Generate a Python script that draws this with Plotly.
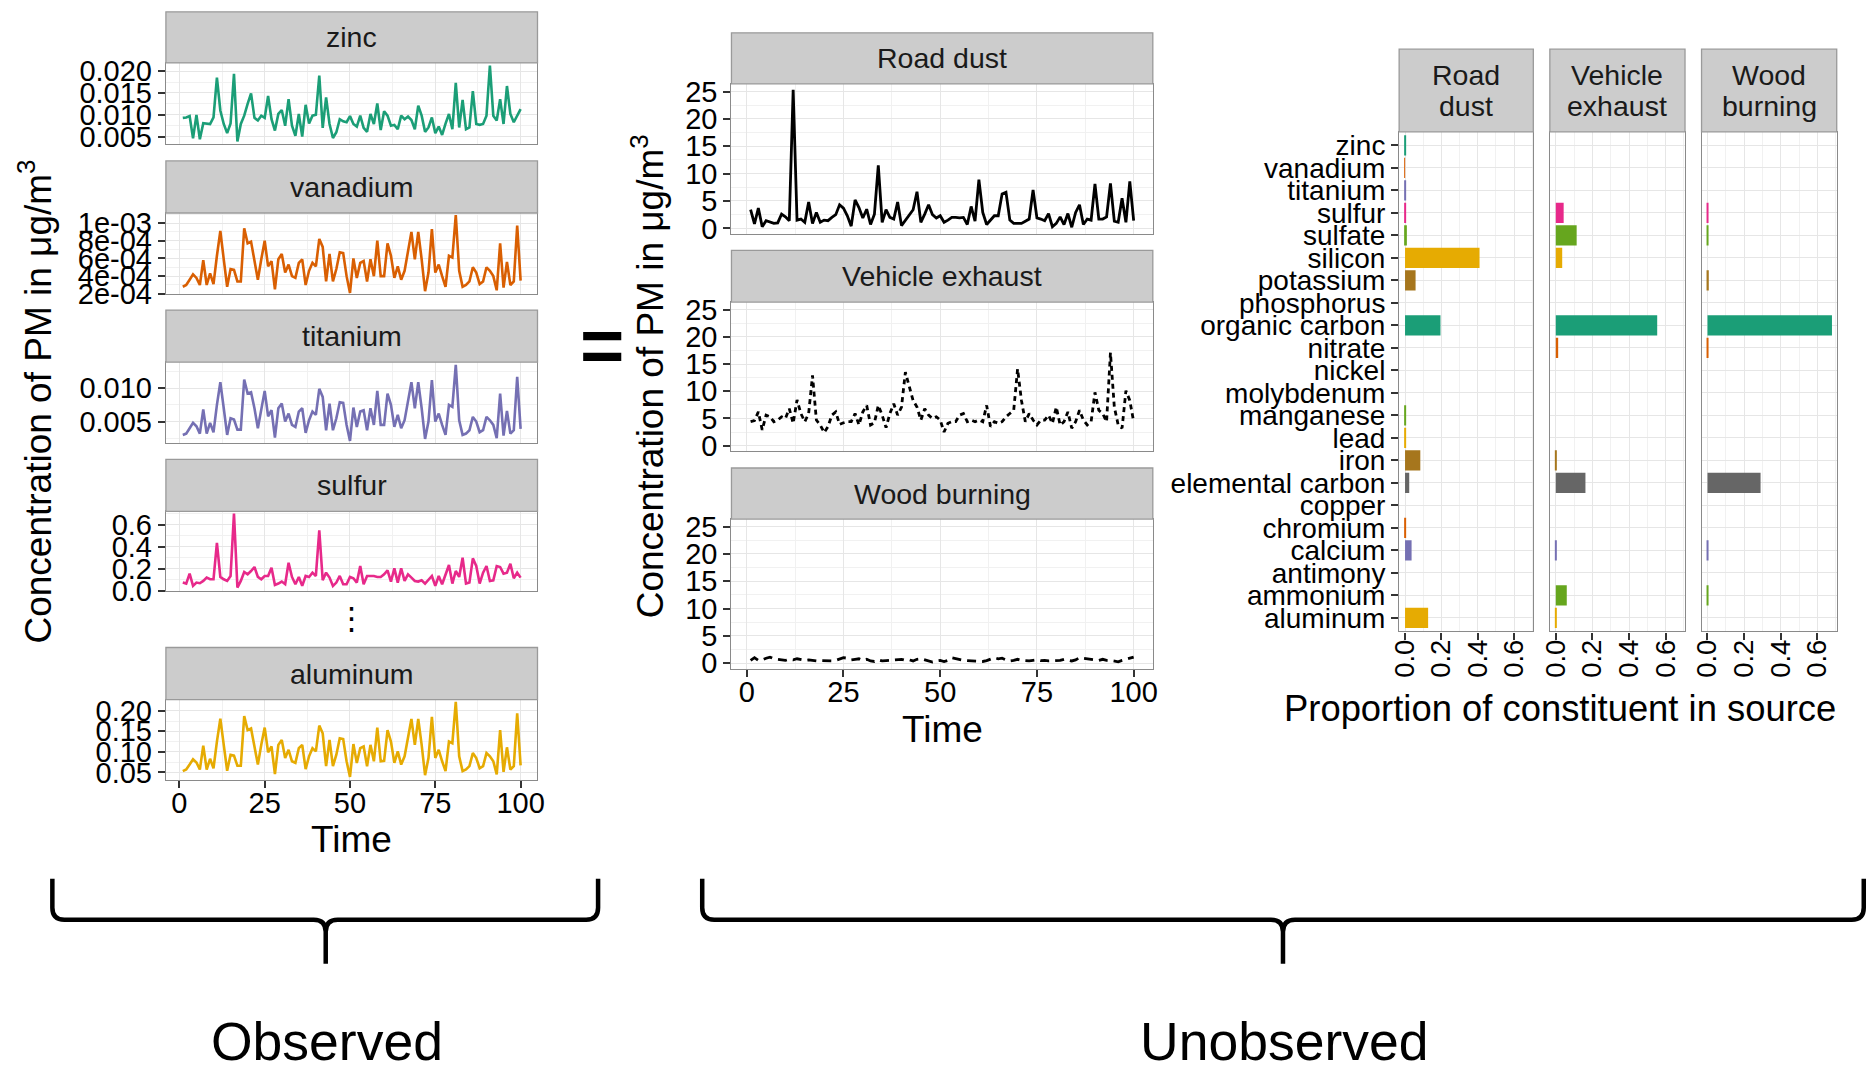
import plotly.graph_objects as go

W, H = 1871, 1078
FONT = "Liberation Sans, Arial, Helvetica, sans-serif"

# ---------------- data ----------------
time = list(range(1, 101))

zinc = [0.0093, 0.0094, 0.0097, 0.0046, 0.0100, 0.0044, 0.0081, 0.0080, 0.0079, 0.0094,
        0.0185, 0.0110, 0.0079, 0.0058, 0.0080, 0.0194, 0.0039, 0.0079, 0.0098, 0.0125,
        0.0149, 0.0093, 0.0087, 0.0098, 0.0093, 0.0143, 0.0090, 0.0064, 0.0102, 0.0111,
        0.0075, 0.0136, 0.0075, 0.0052, 0.0102, 0.0050, 0.0123, 0.0080, 0.0098, 0.0100,
        0.0190, 0.0070, 0.0140, 0.0079, 0.0047, 0.0060, 0.0090, 0.0085, 0.0083, 0.0097,
        0.0079, 0.0073, 0.0098, 0.0070, 0.0061, 0.0102, 0.0079, 0.0126, 0.0065, 0.0108,
        0.0098, 0.0075, 0.0077, 0.0067, 0.0098, 0.0090, 0.0096, 0.0088, 0.0067, 0.0121,
        0.0098, 0.0061, 0.0071, 0.0094, 0.0058, 0.0073, 0.0054, 0.0080, 0.0102, 0.0067,
        0.0173, 0.0071, 0.0134, 0.0067, 0.0071, 0.0154, 0.0079, 0.0077, 0.0079, 0.0098,
        0.0213, 0.0098, 0.0087, 0.0136, 0.0079, 0.0166, 0.0102, 0.0083, 0.0098, 0.0113]

vanadium = [2.8e-4, 3.0e-4, 3.6e-4, 4.2e-4, 3.8e-4, 3.0e-4, 5.8e-4, 3.0e-4, 4.3e-4, 3.1e-4,
            6.3e-4, 9.1e-4, 5.9e-4, 2.8e-4, 4.8e-4, 4.7e-4, 3.4e-4, 3.4e-4, 9.4e-4, 7.7e-4,
            7.9e-4, 5.9e-4, 3.6e-4, 5.9e-4, 8.0e-4, 5.1e-4, 5.7e-4, 2.5e-4, 5.9e-4, 6.5e-4,
            4.4e-4, 5.3e-4, 4.0e-4, 3.8e-4, 5.5e-4, 5.9e-4, 3.0e-4, 4.6e-4, 5.5e-4, 5.1e-4,
            8.2e-4, 7.3e-4, 3.4e-4, 6.5e-4, 3.4e-4, 4.8e-4, 6.7e-4, 6.6e-4, 4.0e-4, 2.1e-4,
            6.0e-4, 3.8e-4, 5.5e-4, 5.7e-4, 3.4e-4, 5.9e-4, 4.0e-4, 8.0e-4, 4.0e-4, 4.0e-4,
            7.7e-4, 6.3e-4, 3.8e-4, 5.1e-4, 3.6e-4, 4.6e-4, 6.7e-4, 9.0e-4, 5.9e-4, 9.0e-4,
            5.9e-4, 2.3e-4, 4.4e-4, 9.3e-4, 4.4e-4, 5.3e-4, 4.0e-4, 2.8e-4, 6.3e-4, 6.1e-4,
            10.9e-4, 4.6e-4, 2.8e-4, 3.0e-4, 3.4e-4, 5.0e-4, 4.4e-4, 3.1e-4, 3.4e-4, 5.0e-4,
            4.6e-4, 4.0e-4, 2.4e-4, 7.7e-4, 2.7e-4, 5.6e-4, 3.0e-4, 3.4e-4, 9.7e-4, 3.5e-4]

titanium = [0.0030, 0.0032, 0.0040, 0.0048, 0.0043, 0.0032, 0.0068, 0.0032, 0.0048, 0.0034,
            0.0075, 0.0109, 0.0070, 0.0030, 0.0055, 0.0053, 0.0038, 0.0038, 0.0113, 0.0092,
            0.0094, 0.0070, 0.0040, 0.0070, 0.0096, 0.0058, 0.0067, 0.0026, 0.0070, 0.0077,
            0.0050, 0.0062, 0.0045, 0.0042, 0.0065, 0.0070, 0.0033, 0.0052, 0.0065, 0.0060,
            0.0099, 0.0087, 0.0037, 0.0077, 0.0037, 0.0055, 0.0079, 0.0078, 0.0045, 0.0021,
            0.0071, 0.0042, 0.0065, 0.0067, 0.0037, 0.0070, 0.0045, 0.0096, 0.0045, 0.0045,
            0.0092, 0.0075, 0.0042, 0.0060, 0.0040, 0.0052, 0.0079, 0.0109, 0.0070, 0.0109,
            0.0070, 0.0024, 0.0050, 0.0112, 0.0050, 0.0062, 0.0045, 0.0030, 0.0075, 0.0072,
            0.0135, 0.0052, 0.0030, 0.0032, 0.0037, 0.0057, 0.0050, 0.0034, 0.0037, 0.0057,
            0.0052, 0.0045, 0.0025, 0.0092, 0.0029, 0.0066, 0.0032, 0.0037, 0.0117, 0.0039]

sulfur = [0.075, 0.066, 0.156, 0.045, 0.075, 0.069, 0.090, 0.120, 0.105, 0.105,
          0.435, 0.126, 0.105, 0.090, 0.135, 0.700, 0.030, 0.090, 0.171, 0.150,
          0.180, 0.216, 0.126, 0.105, 0.135, 0.135, 0.210, 0.054, 0.066, 0.084,
          0.060, 0.255, 0.126, 0.060, 0.126, 0.045, 0.135, 0.126, 0.165, 0.135,
          0.549, 0.096, 0.165, 0.120, 0.045, 0.075, 0.135, 0.060, 0.060, 0.126,
          0.114, 0.075, 0.225, 0.060, 0.135, 0.135, 0.135, 0.126, 0.126, 0.150,
          0.186, 0.084, 0.204, 0.075, 0.204, 0.090, 0.150, 0.120, 0.090, 0.084,
          0.096, 0.066, 0.096, 0.135, 0.045, 0.135, 0.060, 0.150, 0.234, 0.066,
          0.180, 0.126, 0.300, 0.066, 0.075, 0.294, 0.225, 0.066, 0.165, 0.225,
          0.090, 0.096, 0.225, 0.216, 0.156, 0.165, 0.246, 0.114, 0.165, 0.120]

aluminum = [0.053, 0.057, 0.069, 0.082, 0.074, 0.057, 0.115, 0.057, 0.083, 0.060,
            0.125, 0.181, 0.117, 0.054, 0.093, 0.091, 0.066, 0.066, 0.187, 0.153,
            0.157, 0.117, 0.069, 0.117, 0.159, 0.099, 0.113, 0.046, 0.117, 0.129,
            0.085, 0.105, 0.077, 0.073, 0.109, 0.117, 0.058, 0.089, 0.109, 0.101,
            0.164, 0.145, 0.065, 0.129, 0.065, 0.093, 0.133, 0.131, 0.077, 0.039,
            0.119, 0.073, 0.109, 0.113, 0.065, 0.117, 0.077, 0.159, 0.077, 0.078,
            0.153, 0.125, 0.073, 0.101, 0.069, 0.089, 0.133, 0.180, 0.117, 0.180,
            0.117, 0.043, 0.085, 0.185, 0.085, 0.105, 0.077, 0.053, 0.125, 0.121,
            0.222, 0.089, 0.053, 0.057, 0.065, 0.097, 0.085, 0.060, 0.065, 0.097,
            0.089, 0.077, 0.045, 0.153, 0.051, 0.111, 0.057, 0.065, 0.194, 0.067]

road_dust = [3.4, 0.8, 3.7, 0.3, 1.4, 1.1, 0.9, 1.0, 2.6, 2.1,
             1.4, 25.3, 1.5, 1.7, 1.1, 4.8, 0.9, 2.9, 1.1, 1.5,
             1.4, 2.0, 2.5, 4.3, 3.7, 2.3, 0.4, 5.2, 3.8, 1.9,
             3.5, 0.7, 2.6, 11.5, 1.1, 3.4, 2.0, 1.7, 4.8, 0.5,
             1.4, 2.3, 3.4, 6.7, 1.1, 2.6, 4.3, 2.5, 1.9, 2.3,
             1.1, 1.5, 2.0, 2.0, 1.9, 2.0, 0.7, 4.0, 1.3, 8.9,
             2.9, 0.7, 1.5, 2.3, 2.3, 6.3, 6.6, 1.5, 0.9, 0.9,
             0.9, 1.3, 1.7, 7.0, 1.9, 1.7, 1.4, 2.7, 0.3, 0.9,
             2.1, 0.7, 2.7, 0.2, 2.9, 4.3, 0.7, 1.7, 1.5, 8.1,
             1.7, 1.7, 2.1, 8.2, 1.3, 1.1, 5.5, 1.1, 8.6, 1.4]

vehicle_exhaust = [4.4, 4.6, 6.2, 2.9, 5.6, 5.3, 4.4, 4.7, 5.3, 5.0,
                   6.8, 4.1, 8.4, 5.9, 4.4, 5.9, 12.9, 4.7, 3.8, 2.4,
                   3.5, 5.6, 6.2, 3.9, 4.2, 4.4, 4.4, 5.9, 3.8, 6.2,
                   7.4, 3.8, 4.2, 7.4, 5.6, 3.3, 5.9, 7.7, 5.6, 7.1,
                   13.5, 10.7, 8.3, 7.1, 4.7, 6.8, 5.6, 5.0, 5.3, 4.7,
                   2.5, 4.1, 4.4, 4.4, 5.6, 5.9, 4.4, 4.7, 4.4, 4.7,
                   4.4, 7.4, 3.5, 4.4, 4.1, 4.4, 5.3, 5.9, 6.5, 14.1,
                   8.3, 4.4, 5.9, 4.7, 3.8, 4.7, 4.7, 5.6, 4.1, 7.1,
                   3.8, 4.4, 6.2, 3.2, 4.4, 6.5, 4.7, 3.8, 4.4, 9.8,
                   6.5, 5.9, 4.4, 17.1, 7.1, 3.8, 3.2, 10.1, 8.3, 4.4]

wood_burning = [0.5, 1.0, 0.5, 0.6, 0.9, 1.1, 0.8, 0.7, 0.6, 0.5,
                0.7, 0.6, 0.8, 0.6, 0.5, 0.6, 0.45, 0.4, 0.45, 0.4,
                0.45, 0.4, 0.5, 0.8, 1.0, 0.9, 0.6, 0.7, 0.8, 0.5,
                0.7, 0.4, 0.3, 0.6, 0.4, 0.45, 0.5, 0.6, 0.55, 0.7,
                0.5, 0.6, 0.4, 0.7, 0.8, 0.6, 0.45, 0.2, 0.4, 0.5,
                0.3, 0.5, 1.0, 0.8, 0.6, 0.5, 0.45, 0.4, 0.45, 0.4,
                0.3, 0.45, 0.7, 1.0, 0.8, 0.9, 0.6, 0.4, 0.5, 0.7,
                0.5, 0.45, 0.4, 0.5, 0.6, 0.45, 0.5, 0.4, 0.45, 0.55,
                0.5, 0.7, 0.5, 0.4, 0.6, 1.0, 0.9, 0.8, 0.7, 0.6,
                0.5, 0.7, 0.5, 0.5, 0.4, 0.25, 0.5, 0.7, 0.9, 1.1]

observed_names = ["zinc", "vanadium", "titanium", "sulfur", "aluminum"]
source_names = ["Road dust", "Vehicle exhaust", "Wood burning"]

constituents = ["zinc", "vanadium", "titanium", "sulfur", "sulfate", "silicon",
                "potassium", "phosphorus", "organic carbon", "nitrate", "nickel",
                "molybdenum", "manganese", "lead", "iron", "elemental carbon",
                "copper", "chromium", "calcium", "antimony", "ammonium", "aluminum"]

road_dust_profile = [0.001, 0.0005, 0.004, 0.006, 0.010, 0.410, 0.058, 0.0, 0.195, 0.0, 0.0,
                     0.0, 0.001, 0.001, 0.084, 0.023, 0.0, 0.001, 0.036, 0.0, 0.0, 0.127]
vehicle_exhaust_profile = [0.0, 0.0, 0.0, 0.043, 0.114, 0.035, 0.0, 0.0, 0.554, 0.013, 0.0,
                           0.0, 0.0, 0.0, 0.005, 0.162, 0.0, 0.0, 0.002, 0.0, 0.060, 0.001]
wood_burning_profile = [0.0, 0.0, 0.0, 0.004, 0.005, 0.0, 0.007, 0.0, 0.680, 0.003, 0.0,
                        0.0, 0.0, 0.0, 0.0, 0.290, 0.0, 0.0, 0.001, 0.0, 0.002, 0.0]

time_ticks = [0, 25, 50, 75, 100]
zinc_ticks = [0.005, 0.010, 0.015, 0.020]
zinc_labels = ["0.005", "0.010", "0.015", "0.020"]
vanadium_ticks = [2e-4, 4e-4, 6e-4, 8e-4, 1e-3]
vanadium_labels = ["2e-04", "4e-04", "6e-04", "8e-04", "1e-03"]
titanium_ticks = [0.005, 0.010]
titanium_labels = ["0.005", "0.010"]
sulfur_ticks = [0.0, 0.2, 0.4, 0.6]
sulfur_labels = ["0.0", "0.2", "0.4", "0.6"]
aluminum_ticks = [0.05, 0.10, 0.15, 0.20]
aluminum_labels = ["0.05", "0.10", "0.15", "0.20"]
source_ticks = [0, 5, 10, 15, 20, 25]
proportion_ticks = [0.0, 0.2, 0.4, 0.6]
proportion_labels = ["0.0", "0.2", "0.4", "0.6"]

# ---------------- styling ----------------
dark2 = ["#1B9E77", "#D95F02", "#7570B3", "#E7298A", "#66A61E", "#E6AB02", "#A6761D", "#666666"]
source_dash = ["solid", "5px,4px", "9px,6px"]
TICK_SIZE = 29

# the captured picture comes out slightly inset/shrunk; compensate placement
AX, BX = 0.9896, 10.7
AY, BY = 0.9767, 7.2


def fx(p):
    return ((p - BX) / AX) / W


def fy(p):
    return 1 - ((p - BY) / AY) / H


def minors(ticks, lo, hi):
    step = ticks[1] - ticks[0]
    out = []
    v = ticks[0] - step / 2
    while v <= hi:
        if v >= lo:
            out.append(v)
        v += step
    return out


axis_base = dict(showline=True, linewidth=1.3, linecolor="#8A8A8A", mirror=True,
                 zeroline=False, showgrid=True, gridcolor="#E6E6E6", gridwidth=1.4,
                 ticks="outside", ticklen=7, tickwidth=2, tickcolor="#333333",
                 tickfont=dict(family=FONT, size=TICK_SIZE, color="black"), fixedrange=True)

fig = go.Figure()
layout = dict(width=W, height=H, margin=dict(l=0, r=0, t=0, b=0),
              paper_bgcolor="white", plot_bgcolor="white", showlegend=False,
              shapes=[], annotations=[], font=dict(family=FONT))

STRIP_FILL = "#CCCCCC"
STRIP_LINE = "#9A9A9A"


def strip(x0, x1, y0, y1):
    layout["shapes"].append(dict(type="rect", xref="paper", yref="paper",
                                 x0=fx(x0), x1=fx(x1), y0=fy(y1), y1=fy(y0),
                                 fillcolor=STRIP_FILL, line=dict(color=STRIP_LINE, width=1.3)))


def text(t, x, y, size, color="black", angle=0, family=FONT, xanchor="center", yanchor="middle"):
    layout["annotations"].append(dict(text=t, x=fx(x), y=fy(y), xref="paper", yref="paper",
                                      showarrow=False, textangle=angle, xanchor=xanchor,
                                      yanchor=yanchor, font=dict(family=family, size=size, color=color)))


def set_axes(i, x0, x1, y0, y1, xa, ya):
    k = "" if i == 1 else str(i)
    xd = dict(axis_base)
    xd.update(xa)
    yd = dict(axis_base)
    yd.update(ya)
    xd.update(domain=[fx(x0), fx(x1)], anchor="y" + k)
    yd.update(domain=[fy(y1), fy(y0)], anchor="x" + k)
    layout["xaxis" + k] = xd
    layout["yaxis" + k] = yd
    return "x" + k, "y" + k


# ---------------- left: observed constituents ----------------
LX0, LX1 = 166.4, 537.5
left_rows = [(11, 62, 143), (160, 212, 293), (309, 361, 442), (458, 510, 590), (646, 698, 778)]
left_series = [zinc, vanadium, titanium, sulfur, aluminum]
left_ticks = [(zinc_ticks, zinc_labels), (vanadium_ticks, vanadium_labels),
              (titanium_ticks, titanium_labels), (sulfur_ticks, sulfur_labels),
              (aluminum_ticks, aluminum_labels)]
left_ranges = [(0.00333, 0.0219), (1.97e-4, 1.113e-3), (0.00175, 0.0139), (-0.005, 0.72), (0.0323, 0.2274)]
xr = [-3.95, 104.95]

for j, name in enumerate(observed_names):
    st, pt, pb = left_rows[j]
    last = j == len(observed_names) - 1
    tv, tl = left_ticks[j]
    lo, hi = left_ranges[j]
    xa = dict(range=xr, tickvals=time_ticks, ticktext=[str(t) for t in time_ticks],
              showticklabels=last, ticks="outside" if last else "", ticklabelstandoff=-10,
              minor=dict(tickvals=minors(time_ticks, xr[0], xr[1]), showgrid=True,
                         gridcolor="#F1F1F1", gridwidth=1, ticks=""))
    ya = dict(range=[lo, hi], tickvals=tv, ticktext=tl,
              minor=dict(tickvals=minors(tv, lo, hi), showgrid=True,
                         gridcolor="#F1F1F1", gridwidth=1, ticks=""))
    xk, yk = set_axes(j + 1, LX0, LX1, pt, pb, xa, ya)
    color = dark2[constituents.index(name) % 8]
    fig.add_trace(go.Scatter(x=time, y=left_series[j], mode="lines", xaxis=xk, yaxis=yk,
                             line=dict(color=color, width=2.6), hoverinfo="skip"))
    strip(LX0, LX1, st, pt)
    text(name, (LX0 + LX1) / 2, (st + pt) / 2, 28.5, "#1A1A1A")

text("Time", (LX0 + LX1) / 2, 838, 37)
text("Concentration of PM in \u03bcg/m<sup>3</sup>", 36, 400, 37, angle=-90)
text("\u22ee", 352, 617, 31, family="DejaVu Sans")

# ---------------- middle: source contributions ----------------
MX0, MX1 = 731.2, 1152
mid_rows = [(32, 83, 233), (249.3, 301, 450), (466.7, 517.7, 667.3)]
mid_series = [road_dust, vehicle_exhaust, wood_burning]
myr = [-1.04, 26.4]
for j, name in enumerate(source_names):
    st, pt, pb = mid_rows[j]
    last = j == len(source_names) - 1
    xa = dict(range=xr, tickvals=time_ticks, ticktext=[str(t) for t in time_ticks],
              showticklabels=last, ticks="outside" if last else "", ticklabelstandoff=-10,
              minor=dict(tickvals=minors(time_ticks, xr[0], xr[1]), showgrid=True,
                         gridcolor="#F1F1F1", gridwidth=1, ticks=""))
    ya = dict(range=myr, tickvals=source_ticks, ticktext=[str(t) for t in source_ticks],
              minor=dict(tickvals=minors(source_ticks, myr[0], myr[1]), showgrid=True,
                         gridcolor="#F1F1F1", gridwidth=1, ticks=""))
    xk, yk = set_axes(6 + j, MX0, MX1, pt, pb, xa, ya)
    fig.add_trace(go.Scatter(x=time, y=mid_series[j], mode="lines", xaxis=xk, yaxis=yk,
                             line=dict(color="black", width=2.8, dash=source_dash[j]),
                             hoverinfo="skip"))
    strip(MX0, MX1, st, pt)
    text(name, (MX0 + MX1) / 2, (st + pt) / 2, 28.5, "#1A1A1A")

text("Time", (MX0 + MX1) / 2, 728, 37)
text("Concentration of PM in \u03bcg/m<sup>3</sup>", 648, 375, 37, angle=-90)
text("<b>=</b>", 602, 344, 76)

# ---------------- right: source profiles ----------------
right_cols = [(1398, 1532), (1548.5, 1683.5), (1700, 1835)]
RST, RPT, RPB = 48.3, 131, 630
profiles = [road_dust_profile, vehicle_exhaust_profile, wood_burning_profile]
bar_colors = [dark2[i % 8] for i in range(len(constituents))]
pxr = [-0.0325, 0.706]
for j, name in enumerate(source_names):
    x0, x1 = right_cols[j]
    first = j == 0
    xa = dict(range=pxr, tickvals=proportion_ticks, ticktext=proportion_labels, tickangle=-90,
              ticklabelstandoff=-11, tickfont=dict(family=FONT, size=27.5, color="black"),
              minor=dict(tickvals=minors(proportion_ticks, pxr[0], pxr[1]), showgrid=True,
                         gridcolor="#F1F1F1", gridwidth=1, ticks=""))
    ya = dict(type="category", categoryorder="array", categoryarray=constituents[::-1],
              tickmode="array", tickvals=constituents, ticktext=constituents,
              range=[-0.6, len(constituents) - 0.4], showticklabels=first,
              ticks="outside" if first else "",
              tickfont=dict(family=FONT, size=28, color="black"))
    xk, yk = set_axes(9 + j, x0, x1, RPT, RPB, xa, ya)
    fig.add_trace(go.Bar(x=profiles[j], y=constituents, orientation="h", xaxis=xk, yaxis=yk,
                         width=0.9, marker=dict(color=bar_colors, line=dict(width=0)),
                         hoverinfo="skip"))
    strip(x0, x1, RST, RPT)
    words = name.split(" ")
    text(words[0], (x0 + x1) / 2, 74, 28.5, "#1A1A1A")
    text(words[1], (x0 + x1) / 2, 105, 28.5, "#1A1A1A")

text("Proportion of constituent in source", 1559, 707, 36.4)

# ---------------- braces and labels ----------------


def brace(x0, x1, xc, ytop, ybar, ytip, r=12):
    def P(x, y):
        return f"{fx(x):.6f},{fy(y):.6f}"
    return (f"M {P(x0, ytop)} L {P(x0, ybar - r)} Q {P(x0, ybar)} {P(x0 + r, ybar)} "
            f"L {P(xc - r, ybar)} Q {P(xc, ybar)} {P(xc, ybar + r)} L {P(xc, ytip)} "
            f"M {P(xc, ybar + r)} Q {P(xc, ybar)} {P(xc + r, ybar)} "
            f"L {P(x1 - r, ybar)} Q {P(x1, ybar)} {P(x1, ybar - r)} L {P(x1, ytop)}")


for (b0, b1, bc) in [(53, 598, 326), (702, 1862, 1282)]:
    layout["shapes"].append(dict(type="path", xref="paper", yref="paper",
                                 path=brace(b0, b1, bc, 877, 918, 962),
                                 line=dict(color="black", width=4.5)))

text("Observed", 327, 1040, 53.5)
text("Unobserved", 1283, 1040, 53.5)

fig.update_layout(**layout)
fig.write_html("out.html")
